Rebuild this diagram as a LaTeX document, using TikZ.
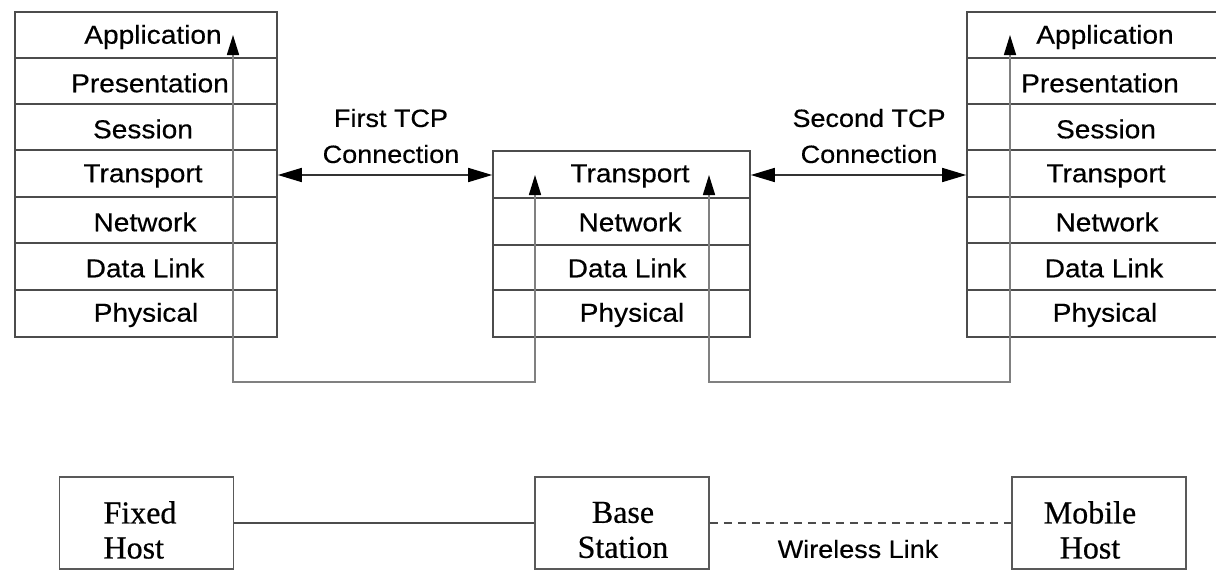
\documentclass[tikz,border=0pt]{standalone}
\usepackage{fontspec}
\setmainfont{Liberation Serif}[FakeBold=0.6]
\setsansfont{Liberation Sans}[FakeStretch=1.08, FakeBold=0.4]
\usetikzlibrary{arrows.meta}
\tikzset{
  frame/.style={draw=black!70, line width=1.6pt, inner sep=0pt},
  rowline/.style={draw=black!70, line width=1.4pt},
  layer/.style={font=\sffamily\fontsize{26}{30}\selectfont, inner sep=0pt, anchor=center},
  flow/.style={draw=black!50, line width=1.6pt, {Triangle[length=20pt,width=12pt,color=black]}-{Triangle[length=20pt,width=12pt,color=black]}},
  tcp/.style={draw=black!80, line width=1.6pt, {Triangle[length=24pt,width=14pt,color=black]}-{Triangle[length=24pt,width=14pt,color=black]}},
  lbl/.style={font=\sffamily\fontsize{25}{36}\selectfont, align=center, inner sep=0pt},
  host/.style={draw=black!65, line width=1.6pt, minimum width=174pt, minimum height=92pt, inner sep=0pt},
  hosttext/.style={font=\rmfamily\fontsize{32}{35}\selectfont, inner sep=0pt},
  link/.style={draw=black!70, line width=1.6pt}
}
\begin{document}
\begin{tikzpicture}[x=1pt,y=-1pt]
\useasboundingbox (0,0) rectangle (1216,570);

% ---- stacks ----
\node[frame, minimum width=262pt, minimum height=325pt] (Ls) at (146,174.5) {};
\node[frame, minimum width=257pt, minimum height=186pt] (Ms) at (621.5,244) {};
\node[frame, minimum width=262pt, minimum height=325pt] (Rs) at (1098,174.5) {};

\foreach \yy in {58,104,150,197,243,290}{
  \draw[rowline] (15,\yy) -- (277,\yy);
  \draw[rowline] (967,\yy) -- (1229,\yy);
}
\foreach \yy in {198,245,290}{
  \draw[rowline] (493,\yy) -- (750,\yy);
}

% left stack labels
\node[layer] (L1) at (153,37) {Application};
\node[layer] (L2) at (150,83) {Presentation};
\node[layer] (L3) at (143,129) {Session};
\node[layer] (L4) at (143,176) {Transport};
\node[layer] (L5) at (145,222) {Network};
\node[layer] (L6) at (145,268) {Data Link};
\node[layer] (L7) at (146,315) {Physical};

% middle stack labels
\node[layer] (M4) at (630,176) {Transport};
\node[layer] (M5) at (630,222) {Network};
\node[layer] (M6) at (627,268) {Data Link};
\node[layer] (M7) at (632,315) {Physical};

% right stack labels
\node[layer] (R1) at (1105,37) {Application};
\node[layer] (R2) at (1100,83) {Presentation};
\node[layer] (R3) at (1106,129) {Session};
\node[layer] (R4) at (1106,176) {Transport};
\node[layer] (R5) at (1107,222) {Network};
\node[layer] (R6) at (1104,268) {Data Link};
\node[layer] (R7) at (1105,315) {Physical};

% ---- data paths ----
\coordinate (p1) at (233,35);
\coordinate (p2) at (233,382);
\coordinate (p3) at (535,382);
\coordinate (p4) at (535,175);
\draw[flow] (p1) -- (p2) -- (p3) -- (p4);

\coordinate (q1) at (709,175);
\coordinate (q2) at (709,382);
\coordinate (q3) at (1010,382);
\coordinate (q4) at (1010,35);
\draw[flow] (q1) -- (q2) -- (q3) -- (q4);

% ---- TCP connections ----
\draw[tcp] (Ls.east |- 0,175) -- (Ms.west |- 0,175);
\draw[tcp] (Ms.east |- 0,175) -- (Rs.west |- 0,175);
\node[lbl] (t1) at (391,136) {First TCP\\Connection};
\node[lbl] (t2) at (869,136) {Second TCP\\Connection};

% ---- hosts ----
\node[host] (fh) at (146.5,523) {};
\node[host] (bs) at (622,523) {};
\node[host] (mh) at (1099,523) {};
\node[hosttext, align=left] (fht) at (140,530) {Fixed\\Host};
\node[hosttext, align=center] (bst) at (623,530) {Base\\Station};
\node[hosttext, align=center] (mht) at (1090,530) {Mobile\\Host};
\draw[link] (fh) -- (bs);
\draw[link, dashed, dash pattern=on 8pt off 6pt] (bs) -- (mh);
\node[font=\sffamily\fontsize{25}{28}\selectfont, inner sep=0pt] (wl) at (858,549) {Wireless Link};
\end{tikzpicture}
\end{document}
